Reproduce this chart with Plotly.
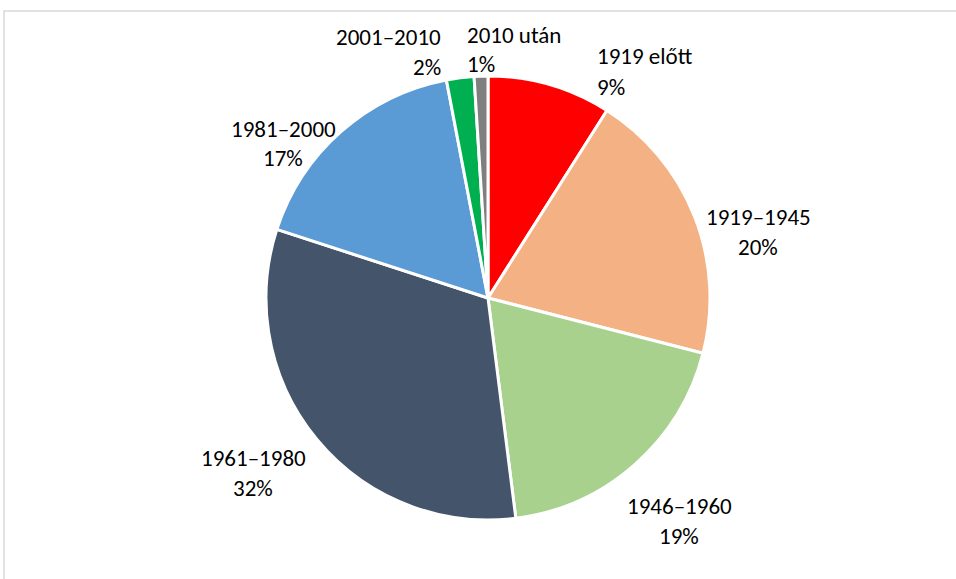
import plotly.graph_objects as go

# Share of buildings by construction period
periods = ["1919 előtt", "1919–1945", "1946–1960", "1961–1980",
           "1981–2000", "2001–2010", "2010 után"]
shares = [9, 20, 19, 32, 17, 2, 1]
colors = ["#FF0000", "#F4B183", "#A9D18E", "#44546A",
          "#5B9BD5", "#00B050", "#7F7F7F"]

W, H = 956, 579

# Label placement (pixel position of the text block, anchor, alignment)
label_pos = [
    (595, 56, 87, "left"),
    (758, 217, 247, "center"),
    (679, 506, 536, "center"),
    (253, 458, 488, "center"),
    (283, 129, 158, "center"),
    (443, 37, 67, "right"),
    (465, 35, 64, "left"),
]

# Pie placement: centre and radius in pixels
cx, cy, r = 488, 298, 222

fig = go.Figure(go.Pie(
    labels=periods,
    values=shares,
    sort=False,
    direction="clockwise",
    rotation=0,
    marker=dict(colors=colors, line=dict(color="white", width=3)),
    textinfo="none",
    hoverinfo="label+percent",
    showlegend=False,
    domain=dict(x=[(cx - r) / W, (cx + r) / W],
                y=[1 - (cy + r) / H, 1 - (cy - r) / H]),
))

font = dict(family="Carlito, Lato, sans-serif", size=23, color="#000000")
annotations = []
for name, val, (px, y1, y2, align) in zip(periods, shares, label_pos):
    for txt, py in ((name, y1), (f"{val}%", y2)):
        annotations.append(dict(
            x=px / W, y=1 - py / H, xref="paper", yref="paper",
            text=txt, showarrow=False, font=font,
            xanchor=align, yanchor="middle",
        ))

fig.update_layout(
    width=W, height=H,
    margin=dict(l=0, r=0, t=0, b=0),
    paper_bgcolor="white",
    plot_bgcolor="white",
    annotations=annotations,
    shapes=[dict(type="rect", xref="paper", yref="paper",
                 x0=4 / W, x1=1.05, y0=-0.05, y1=1 - 11 / H,
                 line=dict(color="#D9D9D9", width=1.5))],
)

fig.write_html("out.html")
